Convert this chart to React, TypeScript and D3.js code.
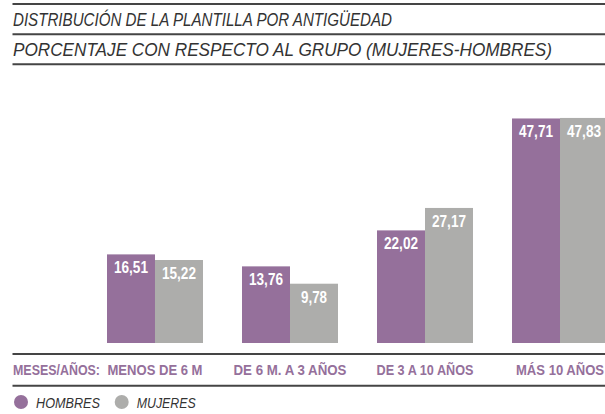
import React from "react";
import * as d3 from "d3";

const categories = ["MENOS DE 6 M", "DE 6 M. A 3 AÑOS", "DE 3 A 10 AÑOS", "MÁS 10 AÑOS"];
const hombres = [16.51, 13.76, 22.02, 47.71];
const mujeres = [15.22, 9.78, 27.17, 47.83];
const seriesNames = ["HOMBRES", "MUJERES"];
const axisLabel = "MESES/AÑOS:";
const title1 = "DISTRIBUCIÓN DE LA PLANTILLA POR ANTIGÜEDAD";
const title2 = "PORCENTAJE CON RESPECTO AL GRUPO (MUJERES-HOMBRES)";

const W = 605;
const H = 414;
const PURPLE = "#95709b";
const GRAY = "#adadab";
const RULE = "#454545";
const COND = "'Liberation Sans Narrow', 'Liberation Sans', Arial, sans-serif";

const fmt = (v: number) => v.toFixed(2).replace(".", ",");

export default function App() {
  const x0 = d3.scaleBand<string>().domain(categories).range([107, 608]).paddingInner(0.289).paddingOuter(0);
  const x1 = d3.scaleBand<string>().domain(seriesNames).range([0, x0.bandwidth()]).padding(0);
  const y = d3.scaleLinear().domain([-3.83, 48]).range([343, 117.2]);
  const series = [hombres, mujeres];
  const colors = [PURPLE, GRAY];
  const catWidths = [95, 113, 97, 88];

  return (
    <svg width={W} height={H} style={{ position: "fixed", left: 0, top: 0, background: "#fff" }}>
      <rect x={0} y={0} width={W} height={H} fill="#fff" />
      {[4, 34.3, 64.3].map((ly, i) => (
        <line key={i} x1={12.5} x2={W} y1={ly} y2={ly} stroke={RULE} strokeWidth={2} />
      ))}
      <text x={13} y={25.5} fontFamily={COND} fontStyle="italic" fontSize={19} fill="#333" textLength={379} lengthAdjust="spacingAndGlyphs">{title1}</text>
      <text x={13} y={56} fontFamily={COND} fontStyle="italic" fontSize={19} fill="#333" textLength={539} lengthAdjust="spacingAndGlyphs">{title2}</text>

      {categories.map((c, ci) => (
        <g key={c} transform={`translate(${x0(c)},0)`}>
          {seriesNames.map((s, si) => {
            const v = series[si][ci];
            const bx = x1(s)!;
            const bw = x1.bandwidth();
            const label = fmt(v);
            return (
              <g key={s}>
                <rect x={bx} y={y(v)} width={bw} height={y(-3.83) - y(v)} fill={colors[si]} />
                <text x={bx + bw / 2 - (label.length === 5 ? 17 : 13)} y={y(v) + 19} fontFamily={COND} fontWeight="bold" fontSize={16.5} fill="#fff" textLength={label.length === 5 ? 34 : 26} lengthAdjust="spacingAndGlyphs">{label}</text>
              </g>
            );
          })}
        </g>
      ))}

      <line x1={12.5} x2={W} y1={354} y2={354} stroke={RULE} strokeWidth={2} />
      <line x1={12.5} x2={W} y1={385.7} y2={385.7} stroke={RULE} strokeWidth={2} />
      <text x={13} y={375} fontFamily={COND} fontWeight="bold" fontSize={15} fill={PURPLE} textLength={87} lengthAdjust="spacingAndGlyphs">{axisLabel}</text>
      {categories.map((c, ci) => (
        <text key={c} x={x0(c)! + x0.bandwidth() / 2 - catWidths[ci] / 2} y={375} fontFamily={COND} fontWeight="bold" fontSize={15} fill={PURPLE} textLength={catWidths[ci]} lengthAdjust="spacingAndGlyphs">{c}</text>
      ))}

      {seriesNames.map((s, si) => (
        <g key={s} transform={`translate(${si === 0 ? 21 : 121.7},402)`}>
          <circle r={7} fill={colors[si]} />
          <text x={15} y={5.5} fontFamily={COND} fontStyle="italic" fontSize={15} fill="#333" textLength={si === 0 ? 64 : 59} lengthAdjust="spacingAndGlyphs">{s}</text>
        </g>
      ))}
    </svg>
  );
}
